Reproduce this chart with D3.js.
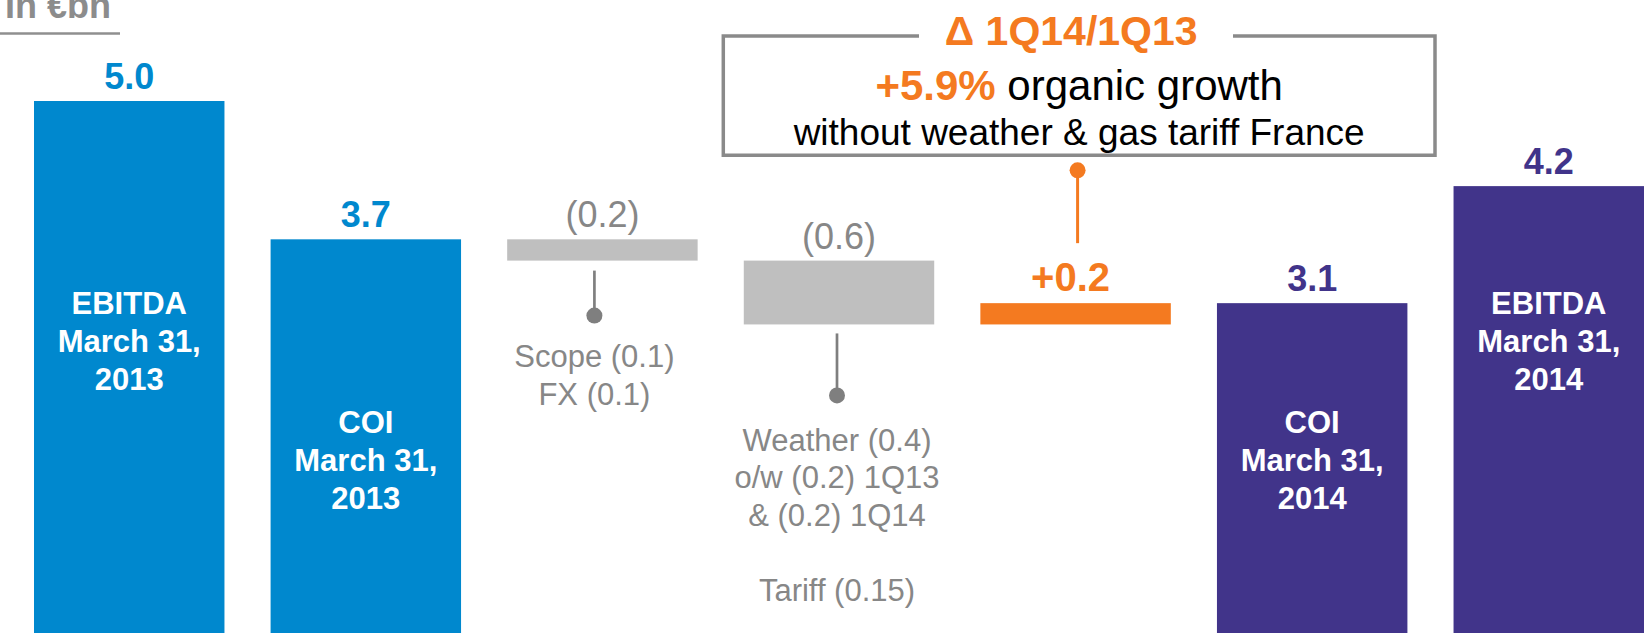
<!DOCTYPE html>
<html>
<head>
<meta charset="utf-8">
<script src="https://cdn.jsdelivr.net/npm/d3@7"></script>
<style>
  html, body { margin: 0; padding: 0; background: #ffffff; }
  svg { display: block; font-family: "Liberation Sans", Arial, Helvetica, sans-serif; }
</style>
</head>
<body>
<svg id="chart" width="1649" height="633"></svg>
<script>
// ---- data ----
const categories = ["EBITDA 1Q13", "COI 1Q13", "Scope & FX", "Weather & Tariff", "Organic", "COI 1Q14", "EBITDA 1Q14"];
const totals = [5.0, 3.7, null, null, null, 3.1, 4.2];          // full bars
const deltas = [null, null, -0.2, -0.6, 0.2, null, null];       // bridge steps from COI 1Q13
const valueLabels = ["5.0", "3.7", "(0.2)", "(0.6)", "+0.2", "3.1", "4.2"];
const barNames = [
  ["EBITDA", "March 31,", "2013"],
  ["COI", "March 31,", "2013"],
  [], [], [],
  ["COI", "March 31,", "2014"],
  ["EBITDA", "March 31,", "2014"]
];
const notes = [
  [], [],
  ["Scope (0.1)", "FX (0.1)"],
  ["Weather (0.4)", "o/w (0.2) 1Q13", "& (0.2) 1Q14", "", "Tariff (0.15)"],
  [], [], []
];
const unitLabel = "In €bn";
const boxTitle = "Δ 1Q14/1Q13";
const growthValue = "+5.9%";
const growthText = " organic growth";
const boxNote = "without weather & gas tariff France";

// ---- styling ----
const BLUE = "#0088ce", PURPLE = "#41348a", GREY_BAR = "#bfbfbf",
      ORANGE = "#f47a20", GREY_TEXT = "#878787", GREY_LINE = "#8a8a8a";
const barColor = i => i < 2 ? BLUE : (i > 4 ? PURPLE : (deltas[i] > 0 ? ORANGE : GREY_BAR));

const svg = d3.select("#chart");
const W = 1649, H = 633;

const x = d3.scaleBand().domain(categories).range([34, 1644]).paddingInner(0.195).paddingOuter(0);
const y = d3.scaleLinear().domain([0, 5]).range([H, 101]);

// build bar extents (bridge starts from COI 1Q13)
let running = totals[1];
const bars = categories.map((c, i) => {
  if (totals[i] != null) return { c, i, lo: 0, hi: totals[i] };
  const a = running, b = running + deltas[i];
  running = b;
  return { c, i, lo: Math.min(a, b), hi: Math.max(a, b) };
});

// unit header
svg.append("text")
  .attr("x", 5).attr("y", 18)
  .attr("font-size", 36).attr("font-weight", "bold")
  .attr("fill", "#8c8c8c")
  .text(unitLabel);
svg.append("line")
  .attr("x1", 0).attr("x2", 120).attr("y1", 33.5).attr("y2", 33.5)
  .attr("stroke", "#8f8f8f").attr("stroke-width", 2.5);

// bars
svg.selectAll("rect.bar").data(bars).join("rect")
  .attr("class", "bar")
  .attr("x", d => x(d.c))
  .attr("width", x.bandwidth())
  .attr("y", d => y(d.hi))
  .attr("height", d => y(d.lo) - y(d.hi))
  .attr("fill", d => barColor(d.i));

// value labels above bars
svg.selectAll("text.val").data(bars).join("text")
  .attr("class", "val")
  .attr("x", d => x(d.c) + x.bandwidth() / 2 - (d.i === 4 ? 5 : 0))
  .attr("y", d => y(d.hi) - 12)
  .attr("text-anchor", "middle")
  .attr("font-size", d => d.i === 4 ? 40 : 36)
  .attr("font-weight", d => (d.i === 2 || d.i === 3) ? "normal" : "bold")
  .attr("fill", d => (d.i === 2 || d.i === 3) ? GREY_TEXT : barColor(d.i))
  .text(d => valueLabels[d.i]);

// names inside the total bars
const nameTop = { "EBITDA": 314, "COI": 433 };
bars.filter(d => barNames[d.i].length).forEach(d => {
  const t = svg.append("text")
    .attr("text-anchor", "middle")
    .attr("font-size", 31).attr("font-weight", "bold")
    .attr("fill", "#ffffff");
  barNames[d.i].forEach((line, k) => {
    t.append("tspan")
      .attr("x", x(d.c) + x.bandwidth() / 2)
      .attr("y", nameTop[barNames[d.i][0]] + k * 37.8)
      .text(line);
  });
});

// grey connectors and explanations below the negative steps
const connector = [
  null, null,
  { dx: -8, gap: 10, len: 45, textTop: 366.5, lead: 38.3 },
  { dx: -2, gap: 9, len: 62, textTop: 450.7, lead: 37.6 },
  null, null, null
];
bars.filter(d => connector[d.i]).forEach(d => {
  const cfg = connector[d.i];
  const cx = x(d.c) + x.bandwidth() / 2 + cfg.dx;
  const y0 = y(d.lo) + cfg.gap, y1 = y0 + cfg.len;
  svg.append("line")
    .attr("x1", cx).attr("x2", cx).attr("y1", y0).attr("y2", y1)
    .attr("stroke", "#7f7f7f").attr("stroke-width", 2.7);
  svg.append("circle").attr("cx", cx).attr("cy", y1).attr("r", 8).attr("fill", "#7f7f7f");
  const t = svg.append("text")
    .attr("text-anchor", "middle")
    .attr("font-size", 31).attr("fill", GREY_TEXT);
  notes[d.i].forEach((line, k) => {
    t.append("tspan").attr("x", cx).attr("y", cfg.textTop + k * cfg.lead).text(line);
  });
});

// callout box for organic growth
const box = { l: 723.3, r: 1435, t: 36, b: 155.3, gapL: 919, gapR: 1233 };
const boxMid = (box.l + box.r) / 2;
svg.append("path")
  .attr("d", `M${box.gapL},${box.t}H${box.l}V${box.b}H${box.r}V${box.t}H${box.gapR}`)
  .attr("fill", "none").attr("stroke", GREY_LINE).attr("stroke-width", 3.5);

svg.append("text")
  .attr("x", boxMid - 8).attr("y", 45)
  .attr("text-anchor", "middle")
  .attr("font-size", 41).attr("font-weight", "bold")
  .attr("fill", ORANGE)
  .text(boxTitle);

const g2 = svg.append("text")
  .attr("x", boxMid).attr("y", 100)
  .attr("text-anchor", "middle")
  .attr("font-size", 42);
g2.append("tspan").attr("font-weight", "bold").attr("fill", ORANGE).text(growthValue);
g2.append("tspan").attr("fill", "#000000").text(growthText);

svg.append("text")
  .attr("x", boxMid).attr("y", 145)
  .attr("text-anchor", "middle")
  .attr("font-size", 37).attr("fill", "#000000")
  .text(boxNote);

// orange pointer from the organic step to the box
const org = bars[4];
const ox = x(org.c) + x.bandwidth() / 2 + 2;
svg.append("line")
  .attr("x1", ox).attr("x2", ox)
  .attr("y1", box.b + 15).attr("y2", y(org.hi) - 60)
  .attr("stroke", ORANGE).attr("stroke-width", 3);
svg.append("circle").attr("cx", ox).attr("cy", box.b + 15).attr("r", 8).attr("fill", ORANGE);
</script>
</body>
</html>
